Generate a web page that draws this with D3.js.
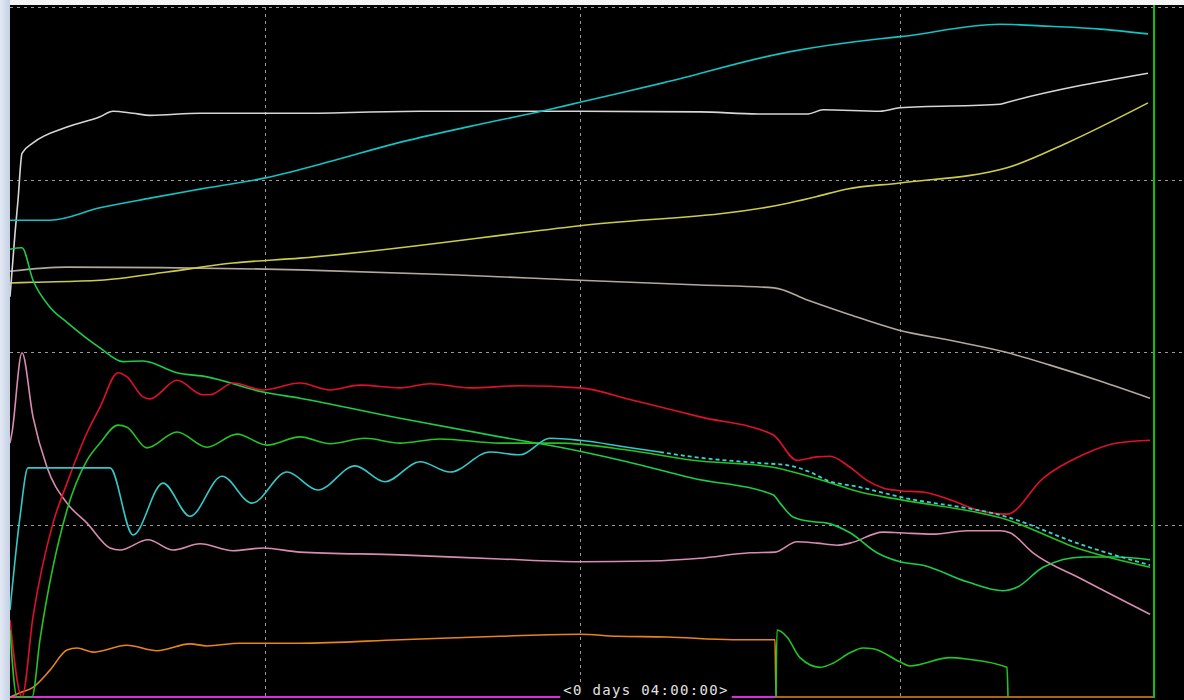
<!DOCTYPE html>
<html>
<head>
<meta charset="utf-8">
<script src="https://cdn.jsdelivr.net/npm/d3@7/dist/d3.min.js"></script>
<style>
  html, body { margin: 0; padding: 0; background: #ffffff; overflow: hidden; }
  svg { display: block; }
</style>
</head>
<body>
<svg id="trend" width="1184" height="700"></svg>
<script>
// Trend window: time in minutes since the start of the window, values in % of span.
const timeSpan = [0, 234.8];
const valueSpan = [0, 100];
const timeGrid = [51, 114, 178];
const valueGrid = [25, 50, 75, 100];
const cursorTime = 228.8;
const windowLabel = "<0 days 04:00:00>";

const cyanTop = [[0,69.1],[8,69.1],[18,70.9],[28,72.3],[38,73.6],[50.8,75.2],[64,77.6],[77,80.2],[92,82.7],[107.6,85.1],[114,86.2],[130.6,89.0],[155.8,93.5],[174,95.4],[178,95.7],[198,97.5],[208,97.2],[218,96.8],[227.6,96.1]];
const whiteTrace = [[0,58.0],[1,67.2],[1.6,72.0],[2.4,78.8],[4.6,80.3],[11.4,82.6],[18,84.1],[20.6,84.9],[24.6,84.6],[28,84.3],[38,84.6],[58,84.6],[82,84.9],[114,84.9],[138,84.8],[149.6,84.5],[159.6,84.5],[162.6,85.1],[174,84.9],[178,85.4],[198,85.9],[199,86.1],[227.6,90.4]];
const yellowTrace = [[0,60.0],[4.6,60.1],[18,60.4],[31.4,61.6],[44.6,62.9],[58,63.6],[114,68.3],[155.8,71.6],[161.2,72.5],[167.2,73.6],[178,74.5],[199.4,76.7],[211.4,80.3],[227.6,86.1]];
const taupeTrace = [[0,61.7],[11.4,62.3],[58,61.9],[88.4,61.2],[114,60.4],[138,59.7],[152.8,59.3],[159.6,57.5],[168,55.4],[177.6,53.2],[188,51.7],[199,50.0],[208,48.1],[218,45.8],[228,43.3]];
const greenFalling = [[0,64.9],[2.4,65.1],[4.6,60.4],[8,56.5],[11.4,54.3],[18,50.6],[22.6,48.6],[26.6,48.7],[33.4,47.0],[39.4,46.4],[50.6,44.2],[58,43.3],[78,40.4],[98,37.7],[110,36.2],[123.4,34.1],[136.6,31.7],[152.6,29.3],[154,28.1],[156.6,26.1],[160.6,25.4],[163.4,25.2],[168,23.8],[173.4,20.9],[178,19.6],[182.6,19.1],[191.4,16.7],[198.6,15.4],[201.4,15.9],[206.6,18.8],[214.6,20.3],[221.4,20.3],[228,19.9]];
const greenSwing = [[0,9.7],[1.4,0],[4.4,0],[6,8.3],[11.4,27.1],[15.4,34.3],[18,36.8],[21.6,39.4],[23.4,39.1],[27.4,36.1],[33.4,38.4],[39.4,36.2],[45.4,38.1],[51.4,36.5],[58,37.7],[64,36.7],[71,37.5],[78,36.8],[86,37.4],[98,36.8],[110,36.8],[123.4,35.8],[136.6,34.3],[152.6,33.3],[156.6,32.6],[163.4,31.2],[170,29.7],[178,28.6],[199.4,25.7],[214.6,21.3],[228,18.8]];
const redTrace = [[0,11.2],[2.4,0],[4.6,11.6],[8.6,25.2],[11.4,31.0],[15.4,38.3],[18,42.0],[21.6,47.0],[23.4,46.4],[26.6,43.5],[28,43.2],[33.4,45.9],[38.6,43.8],[40,43.8],[44.6,45.5],[50.6,44.5],[58,45.5],[64,44.5],[70,45.2],[78,44.8],[84,45.4],[92,44.8],[102,45.1],[114,44.8],[124.6,43.0],[138,40.6],[152.6,38.0],[157.4,34.3],[161.4,34.8],[164,34.9],[168,33.3],[171.4,31.4],[174.6,30.3],[178,29.9],[182.6,29.7],[188,28.6],[193.4,27.1],[199.4,26.5],[206.6,31.7],[214.6,35.1],[221.4,36.8],[228,37.2]];
const cyanSwing = [[0,12.6],[2,26.1],[3.6,33.2],[20,33.2],[24.6,23.5],[30.6,31.0],[36,26.2],[42.4,32.0],[48.4,28.1],[55.4,32.6],[61.6,30.0],[69,33.5],[75,31.2],[82,34.1],[88,32.6],[96,35.5],[102,35.1],[108,37.5],[114,37.2],[123.4,36.2],[130,35.5],[136.6,34.8],[150,33.9],[155.4,33.6],[160,32.6],[163.4,31.4],[170,30.4],[178,29.0],[199.4,26.1],[214.6,22.0],[228,19.1]];
const pinkTrace = [[0,36.8],[0.4,38.3],[2.4,49.9],[4.6,40.6],[7.4,33.3],[11.4,28.1],[15.4,25.2],[20,21.6],[22,21.3],[27.6,22.8],[32.6,21.3],[38,22.2],[44.6,21.2],[50.6,21.6],[58,21.0],[78,20.6],[98,20.0],[114,19.6],[128,19.7],[138,20.1],[148,20.9],[153,21.0],[157.4,22.5],[161.4,22.3],[165.4,22.0],[168,22.3],[174.6,23.9],[178,23.8],[184.6,23.6],[191.4,24.1],[198,24.1],[200,23.8],[204.6,20.9],[214.6,17.0],[228,12.0]];
const orangeTrace = [[0,0],[2,0.6],[4.6,1.4],[8,3.9],[11.4,6.8],[13.4,7.1],[16.6,6.5],[23.4,7.5],[29.4,6.7],[36,7.7],[39.4,7.4],[46,7.8],[58,7.8],[78,8.3],[98,8.8],[114,9.1],[121.4,8.8],[131.4,8.7],[144.6,8.3],[153,8.3],[153.2,0],[228.8,0]];
const greenLate = [[153.2,0],[153.4,9.7],[155.4,8.7],[158,5.7],[162,4.3],[164.6,4.9],[168,6.4],[170.6,7.1],[172.6,7.0],[178,5.1],[180,4.5],[188,5.7],[191.4,5.5],[199.4,4.3],[199.6,0]];
const magentaTrace = [[0,0],[153.2,0]];

// dashed tail of the cyan swing trace starts here
const cyanDashFrom = 130;

const svg = d3.select("#trend");
const W = 1184, H = 700;
const plot = { left: 10, top: 7, right: 1184, bottom: 697 };

const x = d3.scaleLinear().domain(timeSpan).range([plot.left, plot.right]);
const y = d3.scaleLinear().domain(valueSpan).range([plot.bottom, plot.top]);

// window frame
const defs = svg.append("defs");
const grad = defs.append("linearGradient").attr("id", "edge")
  .attr("x1", 0).attr("x2", 1).attr("y1", 0).attr("y2", 0);
grad.append("stop").attr("offset", "0%").attr("stop-color", "#e4eaf4");
grad.append("stop").attr("offset", "100%").attr("stop-color", "#c4d0e4");
svg.append("rect").attr("x", 0).attr("y", 0).attr("width", W).attr("height", H).attr("fill", "#f4f4f4");
svg.append("rect").attr("x", 0).attr("y", 0).attr("width", plot.left).attr("height", H).attr("fill", "url(#edge)");
svg.append("rect").attr("x", plot.left).attr("y", 5).attr("width", W - plot.left).attr("height", H - 5).attr("fill", "#000");

defs.append("clipPath").attr("id", "plotclip")
  .append("rect").attr("x", plot.left).attr("y", plot.top - 1)
  .attr("width", plot.right - plot.left).attr("height", plot.bottom - plot.top + 2);

// grid
const grid = svg.append("g");
grid.selectAll("line.v").data(timeGrid).join("line")
  .attr("x1", d => Math.round(x(d)) + 0.5).attr("x2", d => Math.round(x(d)) + 0.5)
  .attr("y1", plot.top).attr("y2", plot.bottom)
  .attr("stroke", "#9a9a9a").attr("stroke-width", 1).attr("stroke-dasharray", "3,4");
grid.selectAll("line.h").data(valueGrid).join("line")
  .attr("x1", plot.left).attr("x2", plot.right)
  .attr("y1", d => Math.round(y(d)) + 0.5).attr("y2", d => Math.round(y(d)) + 0.5)
  .attr("stroke", "#9a9a9a").attr("stroke-width", 1).attr("stroke-dasharray", "3,4");

const line = d3.line().x(d => x(d[0])).y(d => y(d[1])).curve(d3.curveMonotoneX);
const traces = svg.append("g").attr("clip-path", "url(#plotclip)");

function draw(data, color, width, dash) {
  const p = traces.append("path").datum(data).attr("d", line)
    .attr("fill", "none").attr("stroke", color).attr("stroke-width", width)
    .attr("stroke-linejoin", "round");
  if (dash) p.attr("stroke-dasharray", dash);
  return p;
}

draw(magentaTrace, "#e02ce0", 2);
draw(orangeTrace, "#e8841c", 1.6);
draw(greenLate, "#22c422", 1.6);
draw(taupeTrace, "#b2a89e", 1.6);
draw(yellowTrace, "#cccc4a", 1.6);
draw(whiteTrace, "#d6d6d6", 1.6);
draw(cyanTop, "#12c4c4", 1.6);
draw(pinkTrace, "#d88cb0", 1.6);
draw(greenFalling, "#1ccc4c", 1.6);
draw(redTrace, "#e0102c", 1.6);
draw(greenSwing, "#24c424", 1.6);
draw(cyanSwing.filter(d => d[0] <= cyanDashFrom), "#34c8c8", 1.6);
draw(cyanSwing.filter(d => d[0] >= cyanDashFrom), "#3cd0d0", 1.8, "4,3");

// time cursor
svg.append("line")
  .attr("x1", x(cursorTime)).attr("x2", x(cursorTime))
  .attr("y1", 5).attr("y2", plot.bottom + 1)
  .attr("stroke", "#10c010").attr("stroke-width", 2);

// window span label
const label = svg.append("g");
const txt = label.append("text").attr("x", 646).attr("y", 695)
  .attr("text-anchor", "middle")
  .attr("font-family", "'DejaVu Sans Mono', 'Liberation Mono', monospace")
  .attr("font-size", 14).attr("letter-spacing", 1.3)
  .attr("fill", "#e2e2e2").text(windowLabel);
const bb = txt.node().getBBox();
label.insert("rect", "text").attr("x", bb.x - 3).attr("y", 682)
  .attr("width", bb.width + 6).attr("height", H - 682).attr("fill", "#000");
</script>
</body>
</html>
